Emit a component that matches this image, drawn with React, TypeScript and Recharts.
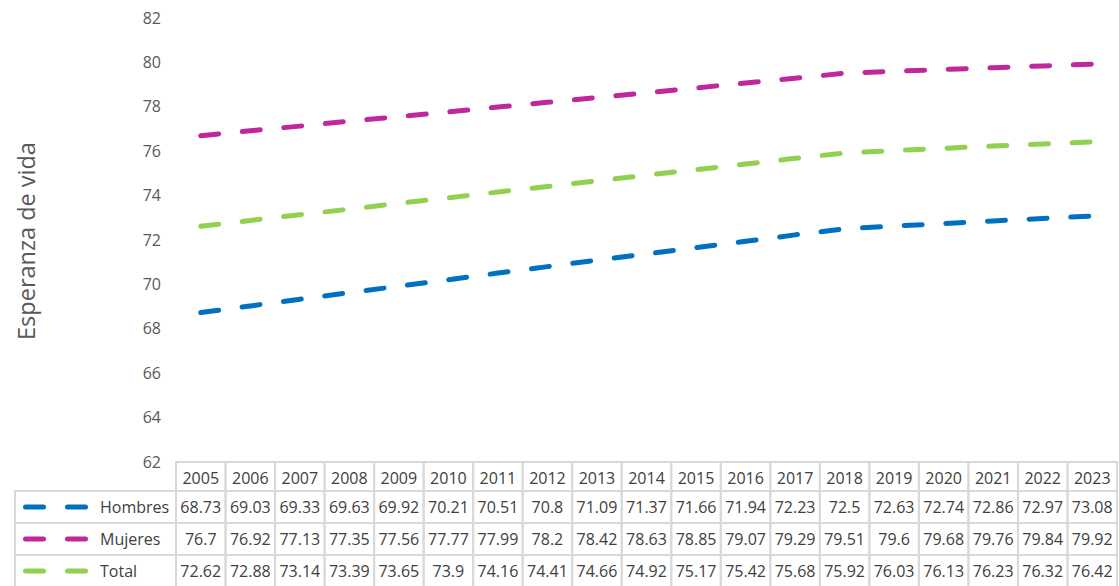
import { LineChart, Line, XAxis, YAxis } from 'recharts'

const years = ['2005', '2006', '2007', '2008', '2009', '2010', '2011', '2012', '2013', '2014', '2015', '2016', '2017', '2018', '2019', '2020', '2021', '2022', '2023']
const hombres = [68.73, 69.03, 69.33, 69.63, 69.92, 70.21, 70.51, 70.8, 71.09, 71.37, 71.66, 71.94, 72.23, 72.5, 72.63, 72.74, 72.86, 72.97, 73.08]
const mujeres = [76.7, 76.92, 77.13, 77.35, 77.56, 77.77, 77.99, 78.2, 78.42, 78.63, 78.85, 79.07, 79.29, 79.51, 79.6, 79.68, 79.76, 79.84, 79.92]
const total = [72.62, 72.88, 73.14, 73.39, 73.65, 73.9, 74.16, 74.41, 74.66, 74.92, 75.17, 75.42, 75.68, 75.92, 76.03, 76.13, 76.23, 76.32, 76.42]
const yTicks = [62, 64, 66, 68, 70, 72, 74, 76, 78, 80, 82]

const series = [
  { key: 'hombres', name: 'Hombres', values: hombres, color: '#0070C0' },
  { key: 'mujeres', name: 'Mujeres', values: mujeres, color: '#C0279C' },
  { key: 'total', name: 'Total', values: total, color: '#92D050' },
]

const data = years.map((year, i) => ({
  year,
  hombres: hombres[i],
  mujeres: mujeres[i],
  total: total[i],
}))

const WIDTH = 1119
const HEIGHT = 586
const PLOT_LEFT = 176
const PLOT_RIGHT = 1117
const COL_W = (PLOT_RIGHT - PLOT_LEFT) / years.length
const HEADER_H = 29
const ROW_H = 32
const LEGEND_LEFT = 15
const FONT = '"Open Sans", sans-serif'
const BORDER = '#D9D9D9'
const DASH = '18 23.7'

function fmt(v: number) {
  return String(v)
}

// draws the data table under the plot, one column per category tick
function TableTick(props: any) {
  const { x, y, payload, index } = props
  const left = x - COL_W / 2
  const rows = series.map((s, r) => {
    const top = y + HEADER_H + r * ROW_H
    return (
      <g key={s.key}>
        <rect x={left} y={top} width={COL_W} height={ROW_H} fill="none" stroke={BORDER} strokeWidth={2} />
        <text x={x} y={top + ROW_H / 2} textAnchor="middle" dominantBaseline="central" fontSize={16} fill="#404040" fontFamily={FONT}>
          {fmt(s.values[index])}
        </text>
      </g>
    )
  })

  return (
    <g>
      <rect x={left} y={y} width={COL_W} height={HEADER_H} fill="none" stroke={BORDER} strokeWidth={2} />
      <text x={x} y={y + HEADER_H / 2 + 1} textAnchor="middle" dominantBaseline="central" fontSize={16} fill="#404040" fontFamily={FONT}>
        {payload.value}
      </text>
      {rows}
      {index === 0 &&
        series.map((s, r) => {
          const top = y + HEADER_H + r * ROW_H
          const mid = top + ROW_H / 2
          return (
            <g key={'leg-' + s.key}>
              <rect x={LEGEND_LEFT} y={top} width={left - LEGEND_LEFT} height={ROW_H} fill="none" stroke={BORDER} strokeWidth={2} />
              <line x1={25.5} y1={mid} x2={85.5} y2={mid} stroke={s.color} strokeWidth={5} strokeDasharray="18 24" strokeLinecap="round" />
              <text x={100} y={mid} dominantBaseline="central" fontSize={16} fill="#404040" fontFamily={FONT}>
                {s.name}
              </text>
            </g>
          )
        })}
    </g>
  )
}

function YLabel() {
  return (
    <text
      x={35}
      y={241}
      transform="rotate(-90, 35, 241)"
      textAnchor="middle"
      fontSize={23.5}
      fill="#595959"
      fontFamily={FONT}
    >
      Esperanza de vida
    </text>
  )
}

export default function App() {
  return (
    <div style={{ position: 'absolute', left: 0, top: 0, width: WIDTH, height: HEIGHT, background: '#fff' }}>
      <LineChart width={WIDTH} height={HEIGHT} data={data} margin={{ top: 18, right: WIDTH - PLOT_RIGHT, left: 0, bottom: 0 }}>
        <XAxis
          dataKey="year"
          scale="band"
          height={124}
          interval={0}
          axisLine={false}
          tickLine={false}
          tickSize={0}
          tickMargin={0}
          tick={<TableTick />}
        />
        <YAxis
          width={PLOT_LEFT}
          domain={[62, 82]}
          ticks={yTicks}
          interval={0}
          axisLine={false}
          tickLine={false}
          tickSize={0}
          tickMargin={15}
          tick={{ fontSize: 16, fill: '#595959', fontFamily: FONT }}
          label={<YLabel />}
        />
        {series.map((s) => (
          <Line
            key={s.key}
            type="linear"
            dataKey={s.key}
            name={s.name}
            stroke={s.color}
            strokeWidth={5}
            strokeDasharray={DASH}
            strokeLinecap="round"
            dot={false}
            activeDot={false}
            isAnimationActive={false}
          />
        ))}
      </LineChart>
    </div>
  )
}
